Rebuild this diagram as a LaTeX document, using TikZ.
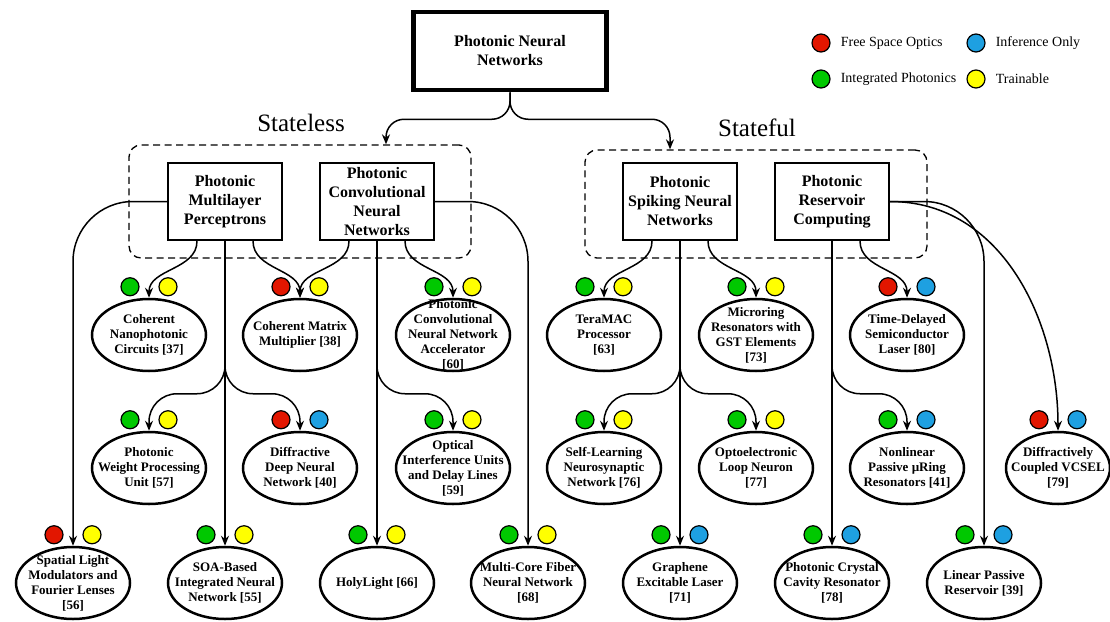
\documentclass[tikz,border=0pt]{standalone}
\usepackage{fontspec}
\setmainfont{Liberation Serif}
\usetikzlibrary{arrows.meta,positioning,shapes.geometric}
\definecolor{fsored}{RGB}{226,22,0}
\definecolor{ipgreen}{RGB}{0,200,0}
\definecolor{tryellow}{RGB}{255,255,0}
\definecolor{inblue}{RGB}{30,160,225}
\tikzset{
  pnroot/.style={
    rectangle, draw=black, line width=4.5pt,
    minimum width=193pt, minimum height=78pt,
    font=\fontsize{16}{19}\selectfont\bfseries, align=center
  },
  pncat/.style={
    rectangle, draw=black, line width=2pt, inner sep=1pt,
    minimum width=114pt, minimum height=77pt,
    font=\fontsize{16}{19}\selectfont\bfseries, align=center
  },
  pngroup/.style={rectangle, rounded corners=12pt, draw=black, line width=1.3pt, dash pattern=on 7pt off 4.5pt},
  pnimpl/.style={ellipse, draw=black, line width=2.5pt, minimum width=114pt, minimum height=72pt},
  pnimpltext/.style={font=\fontsize{13}{15}\selectfont\bfseries, align=center, inner sep=0pt},
  pnbadge/.style={circle, draw=black, line width=1.2pt, minimum size=18pt, inner sep=0pt},
  pnedge/.style={-{Stealth[length=10pt,width=8pt]}, line width=1.5pt},
  pnkey/.style={font=\fontsize{14}{16}\selectfont, anchor=west, inner sep=0pt},
  pnside/.style={font=\fontsize{25}{28}\selectfont}
}

\begin{document}
\begin{tikzpicture}[x=1pt,y=1pt]
\useasboundingbox (0,0) rectangle (1110,-621);

% groups and root
\node[pngroup, minimum width=342pt, minimum height=113pt] (slgroup) at (300,-201.5) {};
\node[pngroup, minimum width=342pt, minimum height=108pt] (sfgroup) at (756,-204) {};
\node[pnroot] (pnn) at (510,-51) {Photonic Neural\\Networks};
\node[pnside] (sltitle) at (301,-123) {Stateless};
\node[pnside] (sftitle) at (757,-128) {Stateful};

% legend
\node[pnbadge,fill=fsored] (key-fso) at (821,-43) {};
\node[pnkey,right=10pt of key-fso] (key-fso-t) {Free Space Optics};
\node[pnbadge,fill=inblue] (key-inf) at (976,-43) {};
\node[pnkey,right=10pt of key-inf] (key-inf-t) {Inference Only};
\node[pnbadge,fill=ipgreen] (key-ip) at (821,-79) {};
\node[pnkey,right=10pt of key-ip] (key-ip-t) {Integrated Photonics};
\node[pnbadge,fill=tryellow] (key-tr) at (976,-79) {};
\node[pnkey,right=10pt of key-tr] (key-tr-t) {Trainable};

% categories
\node[pncat] (mlp) at (225,-201.5) {Photonic\\Multilayer\\Perceptrons};
\node[pncat] (cnn) at (377,-201.5) {Photonic\\Convolutional\\Neural\\Networks};
\node[pncat] (snn) at (680,-201.5) {Photonic\\Spiking Neural\\Networks};
\node[pncat] (prc) at (832,-201.5) {Photonic\\Reservoir\\Computing};

% implementations, first row
\node[pnimpl] (cnc) at (149,-335) {};
\node[pnimpltext] (cnc-t) at (cnc) {Coherent\\Nanophotonic\\Circuits [37]};
\node[pnimpl] (cmm) at (300,-335) {};
\node[pnimpltext] (cmm-t) at (cmm) {Coherent Matrix\\Multiplier [38]};
\node[pnimpl] (pcnna) at (453,-335) {};
\node[pnimpltext] (pcnna-t) at (pcnna) {Photonic\\Convolutional\\Neural Network\\Accelerator\\{}[60]};
\node[pnimpl] (tmac) at (604,-335) {};
\node[pnimpltext] (tmac-t) at (tmac) {TeraMAC\\Processor\\{}[63]};
\node[pnimpl] (mrr) at (756,-335) {};
\node[pnimpltext] (mrr-t) at (mrr) {Microring\\Resonators with\\GST Elements\\{}[73]};
\node[pnimpl] (tdsl) at (907,-335) {};
\node[pnimpltext] (tdsl-t) at (tdsl) {Time-Delayed\\Semiconductor\\Laser [80]};

% second row
\node[pnimpl] (pwpu) at (149,-468) {};
\node[pnimpltext] (pwpu-t) at (pwpu) {Photonic\\Weight Processing\\Unit [57]};
\node[pnimpl] (ddnn) at (300,-468) {};
\node[pnimpltext] (ddnn-t) at (ddnn) {Diffractive\\Deep Neural\\Network [40]};
\node[pnimpl] (oiu) at (453,-468) {};
\node[pnimpltext] (oiu-t) at (oiu) {Optical\\Interference Units\\and Delay Lines\\{}[59]};
\node[pnimpl] (slnn) at (604,-468) {};
\node[pnimpltext] (slnn-t) at (slnn) {Self-Learning\\Neurosynaptic\\Network [76]};
\node[pnimpl] (oln) at (756,-468) {};
\node[pnimpltext] (oln-t) at (oln) {Optoelectronic\\Loop Neuron\\{}[77]};
\node[pnimpl] (nprr) at (907,-468) {};
\node[pnimpltext] (nprr-t) at (nprr) {Nonlinear\\Passive µRing\\Resonators [41]};
\node[pnimpl,minimum width=104pt] (dcv) at (1058,-468) {};
\node[pnimpltext] (dcv-t) at (dcv) {Diffractively\\Coupled VCSEL\\{}[79]};

% third row
\node[pnimpl] (slm) at (73,-583) {};
\node[pnimpltext] (slm-t) at (slm) {Spatial Light\\Modulators and\\Fourier Lenses\\{}[56]};
\node[pnimpl] (soa) at (225,-583) {};
\node[pnimpltext] (soa-t) at (soa) {SOA-Based\\Integrated Neural\\Network [55]};
\node[pnimpl] (holy) at (377,-583) {};
\node[pnimpltext] (holy-t) at (holy) {HolyLight [66]};
\node[pnimpl] (mcf) at (528,-583) {};
\node[pnimpltext] (mcf-t) at (mcf) {Multi-Core Fiber\\Neural Network\\{}[68]};
\node[pnimpl] (gel) at (680,-583) {};
\node[pnimpltext] (gel-t) at (gel) {Graphene\\Excitable Laser\\{}[71]};
\node[pnimpl] (pccr) at (832,-583) {};
\node[pnimpltext] (pccr-t) at (pccr) {Photonic Crystal\\Cavity Resonator\\{}[78]};
\node[pnimpl] (lpr) at (984,-583) {};
\node[pnimpltext] (lpr-t) at (lpr) {Linear Passive\\Reservoir [39]};

% property dots on top of each implementation
\foreach \n/\ca/\cb in {cnc/ipgreen/tryellow, cmm/fsored/tryellow, pcnna/ipgreen/tryellow,
    tmac/ipgreen/tryellow, mrr/ipgreen/tryellow, tdsl/fsored/inblue,
    pwpu/ipgreen/tryellow, ddnn/fsored/inblue, oiu/ipgreen/tryellow, slnn/ipgreen/tryellow,
    oln/ipgreen/tryellow, nprr/ipgreen/inblue, dcv/fsored/inblue,
    slm/fsored/tryellow, soa/ipgreen/tryellow, holy/ipgreen/tryellow, mcf/ipgreen/tryellow,
    gel/ipgreen/inblue, pccr/ipgreen/inblue, lpr/ipgreen/inblue} {
  \node[pnbadge,fill=\ca] (\n-l) at ([shift={(-19pt,11pt)}]\n.north) {};
  \node[pnbadge,fill=\cb] (\n-r) at ([shift={(19pt,11pt)}]\n.north) {};
}

% root to groups
\draw[pnedge,rounded corners=18pt] (pnn.south) -- ++(0,-27) -| ([xshift=86pt]slgroup.north);
\draw[pnedge,rounded corners=18pt] (pnn.south) -- ++(0,-27) -| ([xshift=-86pt]sfgroup.north);

% stateless
\draw[pnedge,rounded corners=60pt] (mlp.west) -| (slm.north);
\draw[pnedge] ([xshift=-28pt]mlp.south) to[out=-90,in=90] (cnc.north);
\draw[pnedge] (mlp.south) -- (soa.north);
\draw[pnedge,rounded corners=28pt] (mlp.south) |- ([yshift=37pt]pwpu.north) -- (pwpu.north);
\draw[pnedge,rounded corners=28pt] (mlp.south) |- ([yshift=37pt]ddnn.north) -- (ddnn.north);
\draw[pnedge] ([xshift=28pt]mlp.south) to[out=-90,in=90] (cmm.north);
\draw[pnedge] ([xshift=-28pt]cnn.south) to[out=-90,in=90] (cmm.north);
\draw[pnedge] (cnn.south) -- (holy.north);
\draw[pnedge] ([xshift=28pt]cnn.south) to[out=-90,in=90] (pcnna.north);
\draw[pnedge,rounded corners=28pt] (cnn.south) |- ([yshift=37pt]oiu.north) -- (oiu.north);
\draw[pnedge,rounded corners=60pt] (cnn.east) -| (mcf.north);

% stateful
\draw[pnedge] ([xshift=-28pt]snn.south) to[out=-90,in=90] (tmac.north);
\draw[pnedge] (snn.south) -- (gel.north);
\draw[pnedge,rounded corners=28pt] (snn.south) |- ([yshift=37pt]slnn.north) -- (slnn.north);
\draw[pnedge] ([xshift=28pt]snn.south) to[out=-90,in=90] (mrr.north);
\draw[pnedge,rounded corners=28pt] (snn.south) |- ([yshift=37pt]oln.north) -- (oln.north);
\draw[pnedge] (prc.south) -- (pccr.north);
\draw[pnedge,rounded corners=28pt] (prc.south) |- ([yshift=37pt]nprr.north) -- (nprr.north);
\draw[pnedge] ([xshift=28pt]prc.south) to[out=-90,in=90] (tdsl.north);
\draw[pnedge,rounded corners=60pt] (prc.east) -| (lpr.north);
\draw[pnedge] (prc.east) to[out=0,in=90] (dcv.north);
\end{tikzpicture}
\end{document}
